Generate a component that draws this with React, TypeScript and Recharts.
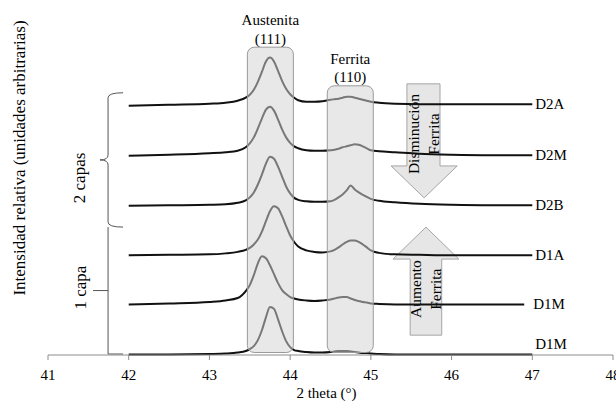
import React from 'react'
import { ComposedChart, Line, XAxis, YAxis, ReferenceArea, ReferenceDot } from 'recharts'

// 2 theta sample positions (deg), shared by every pattern
const theta = [42, 42.5, 43, 43.2, 43.35, 43.45, 43.5, 43.55, 43.6, 43.65, 43.7, 43.75, 43.8, 43.85, 43.9, 43.95,
  44, 44.05, 44.1, 44.2, 44.3, 44.4, 44.5, 44.55, 44.6, 44.65, 44.7, 44.75, 44.8, 44.85, 44.9, 44.95,
  45, 45.1, 45.3, 45.6, 46, 46.5, 46.9, 47]

// relative intensity of each pattern, bottom to top
const d1mBottom = [0.01, 0.01, 0.02, 0.03, 0.05, 0.08, 0.12, 0.18, 0.3, 0.5, 0.76, 0.97, 0.93, 0.72, 0.48, 0.28,
  0.16, 0.1, 0.08, 0.06, 0.05, 0.05, 0.06, 0.07, 0.08, 0.08, 0.08, 0.07, 0.06, 0.05, 0.04, 0.04,
  0.03, 0.02, 0.01, 0.01, 0.01, 0.01, 0.01, 0.01]
const d1m = [0.02, 0.04, 0.07, 0.1, 0.15, 0.29, 0.41, 0.61, 0.85, 0.99, 0.95, 0.81, 0.63, 0.45, 0.31, 0.23,
  0.17, 0.14, 0.12, 0.1, 0.09, 0.1, 0.12, 0.14, 0.16, 0.17, 0.17, 0.14, 0.11, 0.09, 0.07, 0.06,
  0.04, 0.03, 0.02, 0.02, 0.02, 0.02, 0.02, null]
const d1a = [0.01, 0.02, 0.03, 0.05, 0.08, 0.12, 0.16, 0.23, 0.33, 0.49, 0.7, 0.9, 1.0, 0.96, 0.8, 0.6,
  0.41, 0.28, 0.19, 0.11, 0.08, 0.07, 0.09, 0.12, 0.17, 0.23, 0.28, 0.31, 0.31, 0.28, 0.23, 0.17,
  0.11, 0.06, 0.03, 0.02, 0.01, 0.01, 0.01, 0.01]
const d2b = [0.01, 0.02, 0.03, 0.04, 0.07, 0.12, 0.18, 0.28, 0.44, 0.64, 0.86, 1.0, 0.96, 0.8, 0.6, 0.4,
  0.26, 0.17, 0.13, 0.1, 0.09, 0.09, 0.1, 0.13, 0.18, 0.24, 0.32, 0.42, 0.34, 0.28, 0.23, 0.19,
  0.15, 0.11, 0.08, 0.05, 0.03, 0.02, 0.02, 0.02]
const d2m = [0.02, 0.04, 0.07, 0.09, 0.12, 0.19, 0.27, 0.39, 0.57, 0.77, 0.95, 1.01, 0.93, 0.75, 0.55, 0.39,
  0.28, 0.21, 0.17, 0.13, 0.12, 0.12, 0.13, 0.14, 0.16, 0.19, 0.21, 0.23, 0.25, 0.24, 0.21, 0.17,
  0.13, 0.11, 0.09, 0.06, 0.04, 0.03, 0.03, 0.03]
const d2a = [0.03, 0.05, 0.07, 0.09, 0.13, 0.19, 0.25, 0.35, 0.51, 0.71, 0.92, 1.0, 0.92, 0.73, 0.53, 0.37,
  0.26, 0.19, 0.14, 0.11, 0.11, 0.12, 0.15, 0.16, 0.17, 0.19, 0.21, 0.21, 0.19, 0.17, 0.15, 0.13,
  0.11, 0.09, 0.07, 0.06, 0.06, 0.06, 0.06, 0.06]

const names = ['D1M', 'D1M', 'D1A', 'D2B', 'D2M', 'D2A']
const offsets = [0, 1, 2, 3, 4, 5]
const series = [d1mBottom, d1m, d1a, d2b, d2m, d2a]
const xTicks = [41, 42, 43, 44, 45, 46, 47, 48]

const serif = "'Liberation Serif', 'Times New Roman', serif"
const axisGray = '#8c8c8c'

const toPoints = (vals: (number | null)[], off: number) =>
  theta.map((x, i) => ({ x, y: vals[i] == null ? null : +((vals[i] as number) + off).toFixed(3) }))

/* ── shapes ── */
const bandShape = (title: string, sub: string) => (p: any) => {
  const { x, y, width, height } = p
  const cx = x + width / 2
  return (
    <g>
      <rect x={x} y={y} width={width} height={height} rx={7} ry={7}
        fill="#d4d4d4" fillOpacity={0.53} stroke="#9a9a9a" strokeWidth={1} />
      <text x={cx} y={y - 22} textAnchor="middle" fontFamily={serif} fontSize={15} fill="#000">{title}</text>
      <text x={cx} y={y - 3.5} textAnchor="middle" fontFamily={serif} fontSize={15} fill="#000">{sub}</text>
    </g>
  )
}

const vText = (x: number, y: number, s: string, size = 15.5) => (
  <text x={x} y={y} transform={`rotate(-90 ${x} ${y})`} textAnchor="middle" dominantBaseline="central"
    fontFamily={serif} fontSize={size} fill="#000">{s}</text>
)

const DownArrow = (p: any) => {
  const { x, y, width: w, height: h } = p
  const sL = x + 0.24 * w, sR = x + 0.74 * w, hb = y + 0.72 * h, cx = x + w / 2
  const sc = (sL + sR) / 2, ty = y + 0.44 * h
  return (
    <g>
      <polygon points={`${sL},${y} ${sR},${y} ${sR},${hb} ${x + w},${hb} ${cx},${y + h} ${x},${hb} ${sL},${hb}`}
        fill="#e6e6e6" stroke="#a6a6a6" strokeWidth={1} />
      {vText(sc - 10, ty, 'Disminución')}
      {vText(sc + 10, ty, 'Ferrita')}
    </g>
  )
}

const UpArrow = (p: any) => {
  const { x, y, width: w, height: h } = p
  const sL = x + 0.26 * w, sR = x + 0.74 * w, hb = y + 0.296 * h, cx = x + w / 2
  const sc = (sL + sR) / 2, ty = y + 0.574 * h
  return (
    <g>
      <polygon points={`${cx},${y} ${x + w},${hb} ${sR},${hb} ${sR},${y + h} ${sL},${y + h} ${sL},${hb} ${x},${hb}`}
        fill="#e6e6e6" stroke="#a6a6a6" strokeWidth={1} />
      {vText(sc - 10, ty, 'Aumento')}
      {vText(sc + 10, ty, 'Ferrita')}
    </g>
  )
}

const BraceTwo = (p: any) => {
  const { x, y, width, height } = p
  const r = x + width, m = x + width * 0.35, top = y, bot = y + height, mid = y + height / 2
  return (
    <g>
      <path d={`M${r},${top} Q${m},${top} ${m},${top + 5} L${m},${mid - 5} Q${m},${mid} ${x},${mid} Q${m},${mid} ${m},${mid + 5} L${m},${bot - 5} Q${m},${bot} ${r},${bot}`}
        fill="none" stroke="#555" strokeWidth={1} />
      {vText(x - 20, mid + 18, '2 capas', 17)}
    </g>
  )
}

const BraceOne = (p: any) => {
  const { x, y, width, height } = p
  const r = x + width, m = x + width * 0.5, top = y, bot = y + height, mid = y + height / 2
  return (
    <g>
      <path d={`M${m},${top} L${m},${bot} L${r},${bot} M${x},${mid} L${m},${mid}`}
        fill="none" stroke="#555" strokeWidth={1} />
      {vText(x - 13, mid - 3, '1 capa', 17)}
    </g>
  )
}

// y-axis title, hung off the left edge of the plot
const YTitle = (p: any) => vText(p.x - 29, p.y + 150, 'Intensidad relativa (unidades arbitrarias)', 17)

export default function App() {
  return (
    <div style={{ position: 'absolute', left: 0, top: 0, background: '#fff' }}>
      <ComposedChart width={616} height={405} margin={{ top: 8, right: 3, bottom: 0, left: 48 }}>
        <XAxis type="number" dataKey="x" domain={[41, 48]} ticks={xTicks} interval={0} height={50}
          tickSize={5} tickMargin={9} axisLine={{ stroke: axisGray }} tickLine={{ stroke: axisGray }}
          tick={{ fill: '#000', fontSize: 15, fontFamily: serif }}
          label={{ value: '2 theta (°)', position: 'insideBottom', offset: 7, dx: -4, fill: '#000', fontSize: 15, fontFamily: serif }} />
        <YAxis type="number" domain={[0, 7]} width={0} tick={false} tickLine={false}
          axisLine={{ stroke: axisGray }} />

        <ReferenceArea x1={41} x2={41.05} y1={0} y2={7} shape={YTitle} />
        <ReferenceArea x1={45.25} x2={46.07} y1={3.17} y2={5.47} shape={DownArrow} />
        <ReferenceArea x1={45.275} x2={46.09} y1={0.4} y2={2.58} shape={UpArrow} />
        <ReferenceArea x1={41.644} x2={41.93} y1={2.58} y2={5.29} shape={BraceTwo} />
        <ReferenceArea x1={41.558} x2={41.93} y1={0.02} y2={2.58} shape={BraceOne} />

        {series.map((vals, k) => (
          <Line key={k} data={toPoints(vals, offsets[k])} dataKey="y" type="monotone" stroke="#111"
            strokeWidth={2} dot={false} activeDot={false} isAnimationActive={false} />
        ))}

        <ReferenceArea x1={43.47} x2={44.04} y1={0.05} y2={6.21} zIndex={2000}
          shape={bandShape('Austenita', '(111)')} />
        <ReferenceArea x1={44.46} x2={45.03} y1={0.05} y2={5.43} zIndex={2000}
          shape={bandShape('Ferrita', '(110)')} />

        {series.map((vals, k) => {
          let last = vals.length - 1
          while (vals[last] == null) last--
          const dx = k === 1 ? 9 : 3
          const dy = k === 0 ? -11 : 0
          return (
            <ReferenceDot key={'l' + k} x={theta[last]} y={(vals[last] as number) + offsets[k]} r={0}
              shape={(p: any) => (
                <text x={p.cx + dx} y={p.cy + dy} dominantBaseline="central" fontFamily={serif}
                  fontSize={15} fill="#000">{names[k]}</text>
              )} />
          )
        })}
      </ComposedChart>
    </div>
  )
}
